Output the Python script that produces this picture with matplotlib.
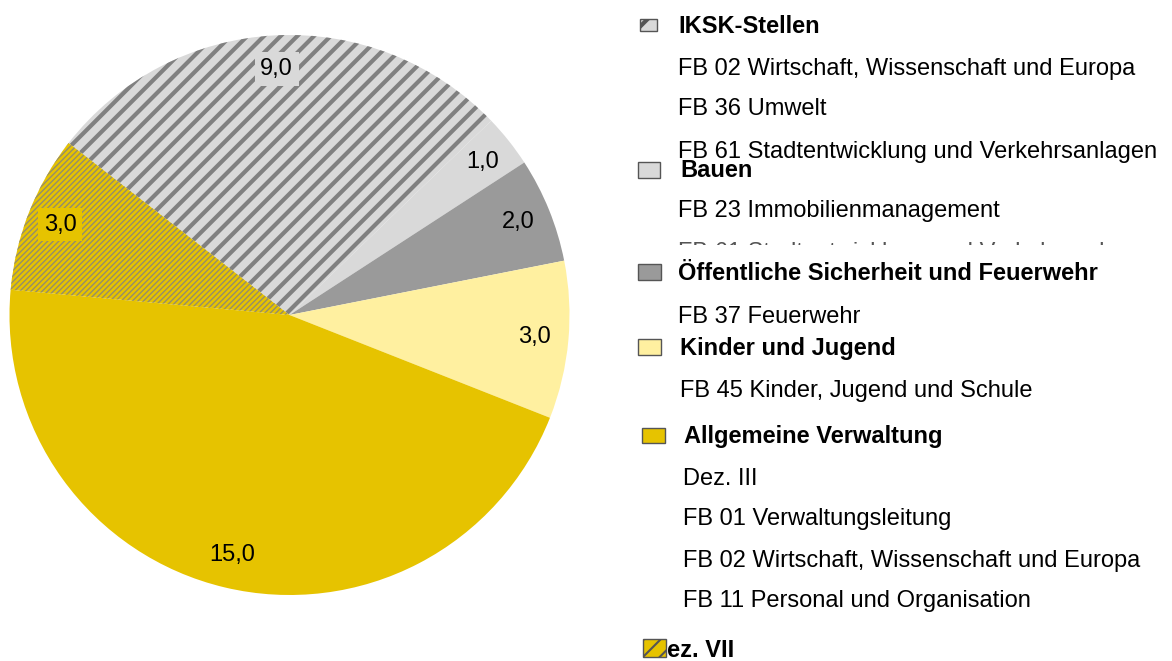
import matplotlib
matplotlib.use('Agg')
import matplotlib.pyplot as plt
from matplotlib.patches import Rectangle

plt.rcParams['font.family'] = ['Liberation Sans', 'DejaVu Sans']
plt.rcParams['font.size'] = 17
plt.rcParams['hatch.linewidth'] = 3.0

# pie data (clockwise, starting at the IKSK wedge)
categories = ['IKSK-Stellen', 'Bauen', 'Öffentliche Sicherheit und Feuerwehr',
              'Kinder und Jugend', 'Allgemeine Verwaltung', 'Dez. VII']
values = [9.0, 1.0, 2.0, 3.0, 15.0, 3.0]
face_colors = ['#d9d9d9', '#d9d9d9', '#9a9a9a', '#fff0a0', '#e6c300', '#e6c300']
hatches = ['//', None, None, None, None, '//////']
hatch_colors = ['#808080', None, None, None, None, '#958d6a']

# legend text: (text, bold, x px, baseline y px)
legend_lines = [
    ('IKSK-Stellen', True, 678, 33),
    ('FB 02 Wirtschaft, Wissenschaft und Europa', False, 678, 75),
    ('FB 36 Umwelt', False, 678, 115),
    ('FB 61 Stadtentwicklung und Verkehrsanlagen', False, 678, 158),
    ('Bauen', True, 680, 177),
    ('FB 23 Immobilienmanagement', False, 678, 217),
    ('Öffentliche Sicherheit und Feuerwehr', True, 678, 280),
    ('FB 37 Feuerwehr', False, 678, 323),
    ('Kinder und Jugend', True, 680, 355),
    ('FB 45 Kinder, Jugend und Schule', False, 680, 397),
    ('Allgemeine Verwaltung', True, 684, 443),
    ('Dez. III', False, 683, 485),
    ('FB 01 Verwaltungsleitung', False, 683, 525),
    ('FB 02 Wirtschaft, Wissenschaft und Europa', False, 683, 567),
    ('FB 11 Personal und Organisation', False, 683, 607),
    ('Dez. VII', True, 650, 657),
]
# line that is cut off under "FB 23"
clipped_line = 'FB 61 Stadtentwicklung und Verkehrsanlagen'

# legend swatches: (category index, x, y top, w, h) in px
swatches = [
    (0, 640, 19, 17, 12),
    (1, 638, 162, 22, 16),
    (2, 638, 264, 23, 16),
    (3, 638, 339, 23, 16),
    (4, 642, 428, 23, 15),
    (5, 643, 639, 23, 18),
]

W, H = 1172, 661
fig = plt.figure(figsize=(W / 100, H / 100), dpi=100)


def fx(px):
    return px / W


def fy(py):
    return 1 - py / H


# pie axes: centre (289, 315), radius 280 px
cx, cy, r = 289.5, 315, 280
ax = fig.add_axes([fx(cx - r), fy(cy + r), 2 * r / W, 2 * r / H])
total = sum(values)
wedges, _, autotexts = ax.pie(
    values, colors=face_colors, startangle=142.1, counterclock=False,
    radius=1, autopct=lambda p: f'{p * total / 100:.1f}'.replace('.', ','),
    pctdistance=0.88, wedgeprops=dict(linewidth=0),
    textprops=dict(fontsize=17, color='black'))
for w, hatch, hc, fc, t in zip(wedges, hatches, hatch_colors, face_colors, autotexts):
    if hatch:
        w.set_hatch(hatch)
        w.set_edgecolor(hc)
        w.set_linewidth(0)
        t.set_bbox(dict(facecolor=fc, edgecolor='none', pad=4))
    t.set_ha('center')
    t.set_va('center')
if hasattr(wedges[5], 'set_hatch_linewidth'):
    wedges[5].set_hatch_linewidth(1.0)
ax.set_xlim(-1, 1)
ax.set_ylim(-1, 1)
ax.axis('off')

# legend text
for text, bold, x, y in legend_lines:
    fig.text(fx(x), fy(y), text, fontsize=17, va='baseline', ha='left',
             fontweight='bold' if bold else 'normal', color='black')

t = fig.text(fx(678), fy(259), clipped_line, fontsize=17, va='baseline', ha='left',
             color='#555555')
t.set_clip_path(Rectangle((0, fy(245)), 1, fy(242) - fy(245), transform=fig.transFigure))

# legend swatches drawn over the text
for idx, x, y, w, h in swatches:
    rect = Rectangle((fx(x), fy(y + h)), w / W, h / H, transform=fig.transFigure,
                     facecolor=face_colors[idx], edgecolor='#555555', linewidth=1.0,
                     zorder=5)
    if hatches[idx]:
        rect.set_hatch('//' if idx == 5 else '/')
        if hasattr(rect, 'set_hatch_linewidth'):
            rect.set_hatch_linewidth(1.5 if idx == 5 else 3.0)
    fig.add_artist(rect)

fig.savefig('out.png', dpi=100)
